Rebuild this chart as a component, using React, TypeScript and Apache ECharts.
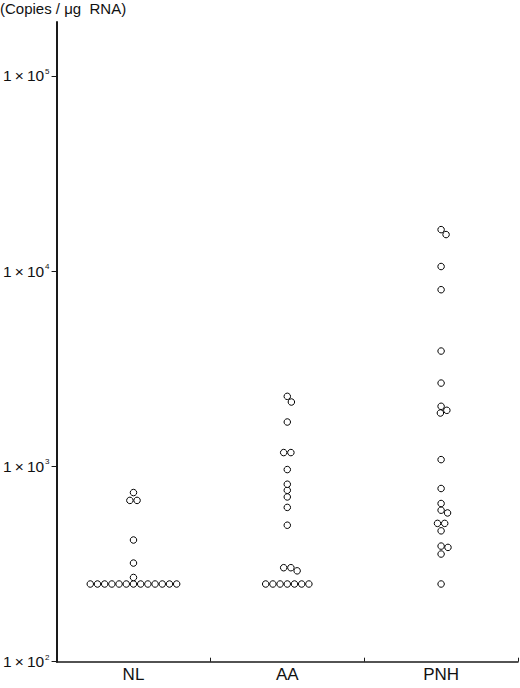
import React, { useEffect, useRef } from "react";
import * as echarts from "echarts";

// Groups on the horizontal axis
const groups = ["NL", "AA", "PNH"];

// Copies per µg RNA, one entry per subject
const nlValues = [
  250, 250, 250, 250, 250, 250, 250, 250, 250, 250, 250, 250, 250,
  270, 320, 420, 670, 670, 735,
];
const aaValues = [
  250, 250, 250, 250, 250, 250, 250,
  292, 303, 303, 500, 617, 698, 755, 811, 964, 1178, 1178, 1689, 2138, 2286,
];
const pnhValues = [
  250, 356, 385, 391, 468, 511, 511, 578, 597, 646, 771, 1084,
  1878, 1939, 2033, 2673, 3900, 8040, 10570, 15410, 16330,
];

// Decade ticks on the log axis
const tickValues = [100, 1000, 10000, 100000];
const yMin = 100;
const yMax = 189000;

const axisColor = "#1a1a1a";
const fontFamily = "'Liberation Sans', Arial, sans-serif";

// Beeswarm: equal values form centred rows, the rest dodge sideways
function swarmOffsets(values: number[], ys: number[]): number[] {
  const rowGap = 7.2;
  const diameter = 7;
  const freeDy = 5.8;
  const offsets = new Array(values.length).fill(0);
  const placed: { x: number; y: number }[] = [];
  const byValue = new Map<number, number[]>();
  values.forEach((v, i) => {
    const list = byValue.get(v) || [];
    list.push(i);
    byValue.set(v, list);
  });
  const singles: number[] = [];
  byValue.forEach((idx) => {
    if (idx.length > 1) {
      idx.forEach((i, k) => {
        offsets[i] = (k - (idx.length - 1) / 2) * rowGap;
        placed.push({ x: offsets[i], y: ys[i] });
      });
    } else {
      singles.push(idx[0]);
    }
  });
  singles.sort((a, b) => values[b] - values[a]);
  for (const i of singles) {
    const spans: [number, number][] = [];
    for (const p of placed) {
      const dy = Math.abs(p.y - ys[i]);
      if (dy < freeDy) {
        const w = Math.sqrt(diameter * diameter - dy * dy);
        spans.push([p.x - w, p.x + w]);
      }
    }
    const candidates = [0];
    spans.forEach(([a, b]) => candidates.push(a, b));
    const ok = candidates.filter((x) =>
      spans.every(([a, b]) => x <= a + 1e-6 || x >= b - 1e-6)
    );
    ok.sort((a, b) => Math.abs(a) - Math.abs(b) || b - a);
    offsets[i] = ok[0];
    placed.push({ x: ok[0], y: ys[i] });
  }
  return offsets;
}

const allGroups = [nlValues, aaValues, pnhValues];

export default function App() {
  const ref = useRef<HTMLDivElement>(null);

  useEffect(() => {
    if (!ref.current) return;
    const chart = echarts.init(ref.current, null, { renderer: "svg" });

    const baseData = (withOffsets: number[][] | null) =>
      allGroups.flatMap((vals, g) =>
        vals.map((v, i) => {
          const item: any = { value: [groups[g], v] };
          if (withOffsets) item.symbolOffset = [withOffsets[g][i], 0];
          return item;
        })
      );

    chart.setOption({
      animation: false,
      backgroundColor: "#ffffff",
      textStyle: { fontFamily },
      grid: { left: 55, right: 2, top: 22, bottom: 26.3, containLabel: false },
      graphic: [
        {
          type: "text",
          left: 0,
          top: 1,
          style: {
            text: "(Copies / μg  RNA)",
            fontSize: 15,
            fontFamily,
            fill: "#111",
          },
        },
      ],
      xAxis: {
        type: "category",
        data: groups,
        boundaryGap: true,
        axisLine: { lineStyle: { color: axisColor, width: 1.5 } },
        axisTick: {
          show: true,
          inside: true,
          length: 4,
          alignWithLabel: false,
          lineStyle: { color: axisColor, width: 1 },
        },
        axisLabel: { fontSize: 17, color: "#111", margin: 4, fontFamily },
        splitLine: { show: false },
      },
      yAxis: {
        type: "log",
        logBase: 10,
        min: yMin,
        max: yMax,
        axisLine: { show: true, lineStyle: { color: axisColor, width: 2 } },
        axisTick: {
          show: true,
          length: 5,
          customValues: tickValues,
          lineStyle: { color: axisColor, width: 1 },
        },
        minorTick: { show: false },
        splitLine: { show: false },
        axisLabel: {
          customValues: tickValues,
          margin: 7,
          color: "#111",
          formatter: (v: number) =>
            `{m|1\u2009×\u200910}{s|${Math.round(Math.log10(v))}}`,
          rich: {
            m: { fontSize: 15.5, fontFamily, color: "#111", lineHeight: 17 },
            s: {
              fontSize: 8,
              fontFamily,
              color: "#111",
              verticalAlign: "top",
              lineHeight: 17,
              padding: [0, 0, 8, 1],
            },
          },
        },
      },
      series: [
        {
          type: "scatter",
          symbol: "circle",
          symbolSize: 6.5,
          itemStyle: { color: "#ffffff", borderColor: "#000000", borderWidth: 1, opacity: 1 },
          emphasis: { disabled: true },
          data: baseData(null),
        },
      ],
    });

    // Lay out the swarm in pixel space using the chart's own y scale
    const offsets = allGroups.map((vals) => {
      const ys = vals.map(
        (v) => chart.convertToPixel({ yAxisIndex: 0 }, v) as number
      );
      return swarmOffsets(vals, ys);
    });
    chart.setOption({ series: [{ data: baseData(offsets) }] });

    return () => chart.dispose();
  }, []);

  return (
    <div
      ref={ref}
      style={{ position: "fixed", left: 0, top: 0, width: 520, height: 688 }}
    />
  );
}
